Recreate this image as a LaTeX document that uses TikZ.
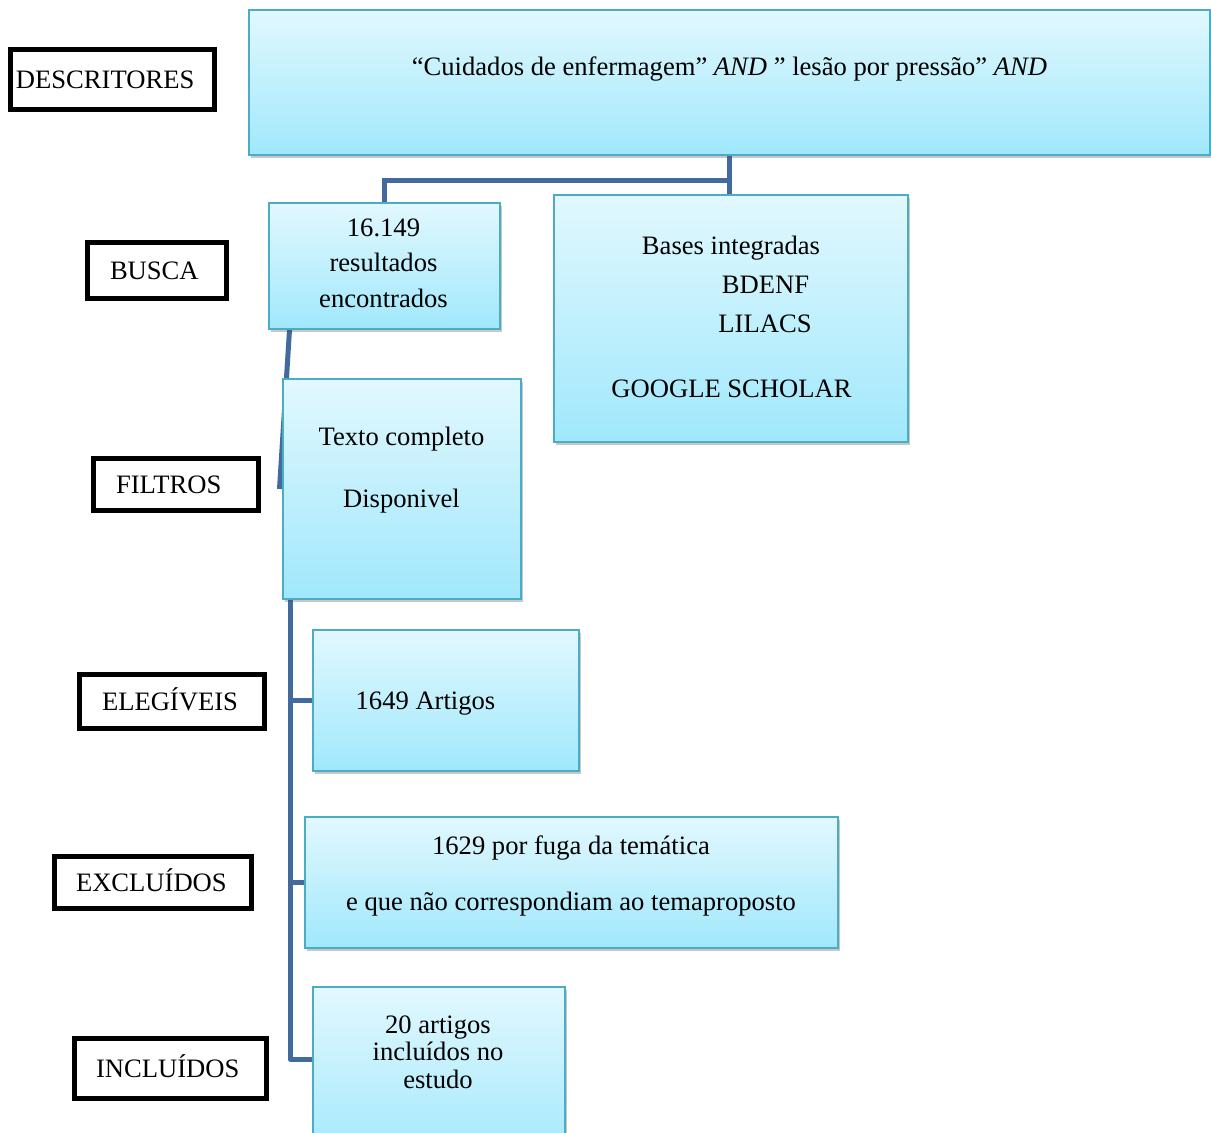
\documentclass[tikz,border=0pt]{standalone}
\usepackage{fontspec}
\setmainfont{Liberation Serif}
\usetikzlibrary{shadows,backgrounds,calc}
\definecolor{conncol}{RGB}{66,106,158}
\definecolor{bborder}{RGB}{75,172,198}
\definecolor{btop}{RGB}{226,248,254}
\definecolor{bbot}{RGB}{160,232,252}
\begin{document}
\begin{tikzpicture}[x=1pt,y=-1pt,
  every node/.style={font=\fontsize{26.6}{30}\selectfont},
  bluebox/.style={draw=bborder, line width=2pt, top color=btop, bottom color=bbot,
    inner sep=0pt, anchor=north west,
    drop shadow={shadow xshift=2pt, shadow yshift=-3pt, opacity=0.3, fill=black!70}},
  labelbox/.style={draw=black, line width=5pt, align=left, text height=17.6pt,
    text depth=0pt, inner ysep=0pt},
  conn/.style={draw=conncol, line width=5pt},
  txt/.style={anchor=base, inner sep=0pt}]
\useasboundingbox (0,0) rectangle (1211,1133);
\clip (0,0) rectangle (1211,1133);

% label boxes
\node[labelbox, inner xsep=5.5pt, text width=193pt, minimum height=60pt] (descr) at (112.5,79.5) {DESCRITORES};
\node[labelbox, inner xsep=22.5pt, text width=94pt, minimum height=56pt] (busca) at (157,270.5) {BUSCA};
\node[labelbox, inner xsep=22.5pt, text width=120pt, minimum height=52pt] (filtros) at (176,484.5) {FILTROS};
\node[labelbox, inner xsep=22.5pt, text width=140pt, minimum height=54pt] (eleg) at (172,701.5) {ELEGÍVEIS};
\node[labelbox, inner xsep=21.5pt, text width=154pt, minimum height=52pt] (excl) at (153,882.5) {EXCLUÍDOS};
\node[labelbox, inner xsep=21.5pt, text width=149pt, minimum height=60pt] (incl) at (170.5,1068.5) {INCLUÍDOS};

% blue boxes
\node[bluebox, minimum width=961pt, minimum height=145pt] (top) at (248,8.5) {};
\node[bluebox, minimum width=231pt, minimum height=126pt] (b16) at (268,202) {};
\node[bluebox, minimum width=354pt, minimum height=247pt] (bases) at (553,194) {};
\node[bluebox, minimum width=238pt, minimum height=220pt] (texto) at (282,378) {};
\node[bluebox, minimum width=266pt, minimum height=141pt] (b1649) at (312,629) {};
\node[bluebox, minimum width=533pt, minimum height=131pt] (b1629) at (304,816) {};
\node[bluebox, minimum width=252pt, minimum height=180pt] (b20) at (312,986) {};

% texts
\node[txt] (topt) at (729.5,75) {“Cuidados de enfermagem” \textit{AND} ” lesão por pressão” \textit{AND}};
\node[txt] (b16a) at (383.5,236) {16.149};
\node[txt] (b16b) at (383.5,271) {resultados};
\node[txt] (b16c) at (383.5,307) {encontrados};
\node[txt] (basa) at (731,254) {Bases integradas};
\node[txt] (basb) at (765.5,293) {BDENF};
\node[txt] (basc) at (765,332) {LILACS};
\node[txt] (basd) at (731.5,397) {GOOGLE SCHOLAR};
\node[txt] (texa) at (401.5,445) {Texto completo};
\node[txt] (texb) at (401.5,507) {Disponivel};
\node[txt] (arta) at (425.5,709) {1649 Artigos};
\node[txt] (exa) at (571,854) {1629 por fuga da temática};
\node[txt] (exb) at (571,910) {e que não correspondiam ao temaproposto};
\node[txt] (ina) at (438,1033) {20 artigos};
\node[txt] (inb) at (438,1060) {incluídos no};
\node[txt] (inc) at (438,1088) {estudo};

% connectors
\begin{pgfonlayer}{background}
\fill[white] (0,0) rectangle (1211,1133);
\coordinate (j1) at (top.south |- 0,180);
\draw[conn] (top.south) -- (top.south |- bases.north);
\draw[conn] (j1) -| (b16.north);
\coordinate (s16) at ($(b16.south west)+(21.5,0)$);
\coordinate (tw) at ($(texto.west)+(-2.5,0)$);
\draw[conn] (s16) -- (tw);
\coordinate (t0) at ($(texto.south west)+(8,0)$);
\coordinate (j20) at ($(b20.north west)+(0,73)$);
\draw[conn, line join=round] (t0) |- (j20);
\draw[conn] (t0 |- b1649.west) -- (b1649.west);
\draw[conn] (t0 |- b1629.west) -- (b1629.west);
\end{pgfonlayer}
\end{tikzpicture}
\end{document}
